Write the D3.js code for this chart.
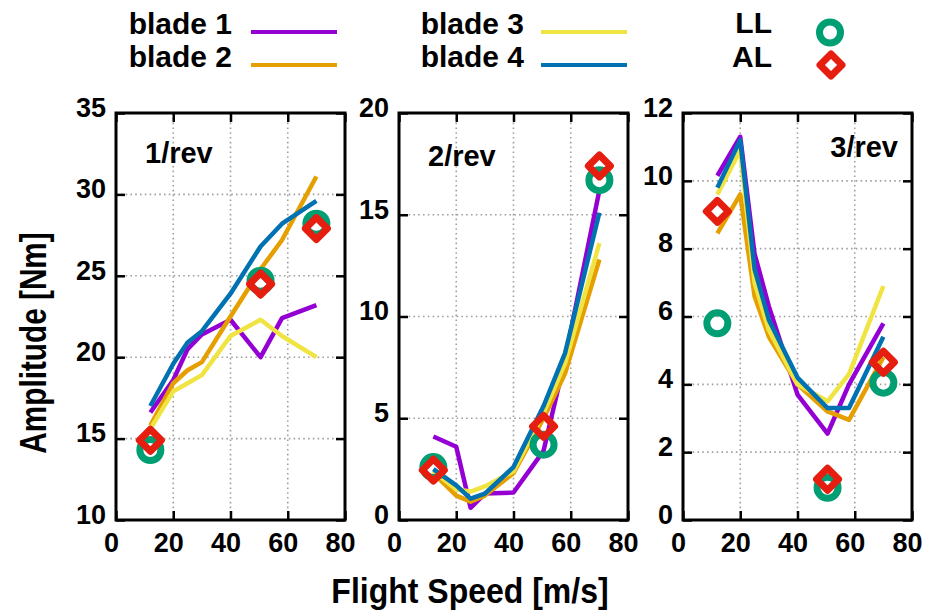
<!DOCTYPE html>
<html>
<head>
<meta charset="utf-8">
<script src="https://cdn.jsdelivr.net/npm/d3@7"></script>
<style>
  html, body { margin: 0; padding: 0; background: #fff; }
  svg { display: block; }
  text { font-family: "Liberation Sans", Arial, Helvetica, sans-serif; font-weight: bold; fill: #000; }
</style>
</head>
<body>
<svg id="chart" width="928" height="610"></svg>
<script>
// Flight speeds at which the blade loads were evaluated [m/s]
const speeds = [12, 20, 25, 30, 40, 50.5, 58, 70];
const markerSpeeds = [12, 50.5, 70];
const xTicks = [0, 20, 40, 60, 80];

// 1/rev amplitudes [Nm]
const rev1Blade1 = [16.6, 18.6, 20.5, 21.4, 22.3, 20.0, 22.4, 23.2];
const rev1Blade2 = [15.8, 18.4, 19.2, 19.7, 22.5, 25.4, 27.2, 31.1];
const rev1Blade3 = [15.6, 17.9, 18.4, 18.9, 21.3, 22.3, 21.3, 20.0];
const rev1Blade4 = [17.0, 19.6, 20.9, 21.6, 23.9, 26.8, 28.2, 29.6];
const rev1LL = [14.3, 24.7, 28.2];
const rev1AL = [14.9, 24.5, 27.9];
const rev1Ticks = [10, 15, 20, 25, 30, 35];

// 2/rev amplitudes [Nm]
const rev2Blade1 = [4.1, 3.6, 0.6, 1.3, 1.35, 3.4, 7.9, 16.2];
const rev2Blade2 = [2.3, 1.2, 0.9, 1.2, 2.3, 5.0, 7.2, 12.8];
const rev2Blade3 = [2.4, 1.5, 1.4, 1.65, 2.4, 5.25, 7.7, 13.6];
const rev2Blade4 = [2.5, 1.7, 1.05, 1.3, 2.6, 5.6, 8.2, 15.1];
const rev2LL = [2.6, 3.7, 16.7];
const rev2AL = [2.45, 4.6, 17.4];
const rev2Ticks = [0, 5, 10, 15, 20];

// 3/rev amplitudes [Nm]
const rev3Blade1 = [10.15, 11.3, 7.85, 6.3, 3.7, 2.55, 4.0, 5.8];
const rev3Blade2 = [8.45, 9.6, 6.6, 5.4, 4.0, 3.2, 2.95, 4.8];
const rev3Blade3 = [9.6, 10.9, 7.0, 5.6, 4.0, 3.5, 4.3, 6.9];
const rev3Blade4 = [9.8, 11.2, 7.4, 5.9, 4.2, 3.3, 3.3, 5.4];
const rev3LL = [5.8, 0.95, 4.05];
const rev3AL = [9.1, 1.2, 4.65];
const rev3Ticks = [0, 2, 4, 6, 8, 10, 12];

const bladeNames = ["blade 1", "blade 2", "blade 3", "blade 4"];
const bladeColors = ["#9400d3", "#e69f00", "#f0e442", "#0072b2"];
const llColor = "#009e73";
const alColor = "#e51e10";

const panels = [
  { label: "1/rev", blades: [rev1Blade1, rev1Blade2, rev1Blade3, rev1Blade4], ll: rev1LL, al: rev1AL, ticks: rev1Ticks, left: 116, labelX: 145, labelY: 163, anchor: "start" },
  { label: "2/rev", blades: [rev2Blade1, rev2Blade2, rev2Blade3, rev2Blade4], ll: rev2LL, al: rev2AL, ticks: rev2Ticks, left: 399, labelX: 428, labelY: 166, anchor: "start" },
  { label: "3/rev", blades: [rev3Blade1, rev3Blade2, rev3Blade3, rev3Blade4], ll: rev3LL, al: rev3AL, ticks: rev3Ticks, left: 683, labelX: 898, labelY: 157, anchor: "end" }
];

const panelW = 229, plotTop = 113, plotBottom = 520;
const tickFont = 27;
const svg = d3.select("#chart");

function diamondPath(cx, cy, d) {
  return `M${cx},${cy - d}L${cx + d},${cy}L${cx},${cy + d}L${cx - d},${cy}Z`;
}

panels.forEach(p => {
  const x = d3.scaleLinear().domain([0, 80]).range([p.left, p.left + panelW]);
  const y = d3.scaleLinear().domain([p.ticks[0], p.ticks[p.ticks.length - 1]]).range([plotBottom, plotTop]);
  const g = svg.append("g");

  // dotted grid at interior ticks
  const grid = g.append("g").attr("stroke", "#a0a0a0").attr("stroke-width", 1.6)
    .attr("stroke-dasharray", "1.6,3.2");
  xTicks.slice(1, -1).forEach(v => {
    grid.append("line").attr("x1", x(v)).attr("x2", x(v)).attr("y1", plotTop).attr("y2", plotBottom);
  });
  p.ticks.slice(1, -1).forEach(v => {
    grid.append("line").attr("x1", p.left).attr("x2", p.left + panelW).attr("y1", y(v)).attr("y2", y(v));
  });

  // inward ticks on all four sides, labels on left and bottom
  const axL = d3.axisLeft(y).tickValues(p.ticks).tickSizeInner(-9).tickSizeOuter(0).tickPadding(10).tickFormat(d3.format("d"));
  const axR = d3.axisRight(y).tickValues(p.ticks).tickSizeInner(-9).tickSizeOuter(0).tickFormat("");
  const axB = d3.axisBottom(x).tickValues(xTicks).tickSizeInner(-9).tickSizeOuter(0).tickPadding(13).tickFormat(d3.format("d"));
  const axT = d3.axisTop(x).tickValues(xTicks).tickSizeInner(-9).tickSizeOuter(0).tickFormat("");

  const styleAxis = sel => {
    sel.select(".domain").remove();
    sel.selectAll(".tick line").attr("stroke", "#000").attr("stroke-width", 2.5);
    sel.selectAll(".tick text").attr("font-size", tickFont)
      .attr("font-family", "Liberation Sans, Arial, sans-serif").attr("font-weight", "bold");
  };
  g.append("g").attr("transform", `translate(${p.left},0)`).call(axL).call(styleAxis)
    .selectAll(".tick text").attr("dy", "0.12em");
  g.append("g").attr("transform", `translate(${p.left + panelW},0)`).call(axR).call(styleAxis);
  g.append("g").attr("transform", `translate(0,${plotBottom})`).call(axB).call(styleAxis)
    .selectAll(".tick text").attr("dx", -5).attr("dy", "0.71em");
  g.append("g").attr("transform", `translate(0,${plotTop})`).call(axT).call(styleAxis);

  // frame
  g.append("rect").attr("x", p.left).attr("y", plotTop).attr("width", panelW).attr("height", plotBottom - plotTop)
    .attr("fill", "none").attr("stroke", "#000").attr("stroke-width", 3);

  // blade curves
  const line = d3.line().x((d, i) => x(speeds[i])).y(d => y(d));
  p.blades.forEach((vals, b) => {
    g.append("path").datum(vals).attr("d", line).attr("fill", "none")
      .attr("stroke", bladeColors[b]).attr("stroke-width", 4.5)
      .attr("stroke-linejoin", "round");
  });

  // lifting-line and actuator-line markers
  p.ll.forEach((v, i) => {
    g.append("circle").attr("cx", x(markerSpeeds[i])).attr("cy", y(v)).attr("r", 10.5)
      .attr("fill", "none").attr("stroke", llColor).attr("stroke-width", 7);
  });
  p.al.forEach((v, i) => {
    g.append("path").attr("d", diamondPath(x(markerSpeeds[i]), y(v), 11))
      .attr("fill", "none").attr("stroke", alColor).attr("stroke-width", 7)
      .attr("stroke-linejoin", "round");
  });

  g.append("text").attr("x", p.labelX).attr("y", p.labelY).attr("text-anchor", p.anchor)
    .attr("font-size", 29).text(p.label);
});

// axis titles
svg.append("text").attr("transform", "translate(470,603) scale(1,1.08)").attr("text-anchor", "middle")
  .attr("font-size", 32).text("Flight Speed [m/s]");
svg.append("text").attr("transform", "translate(46,343) rotate(-90) scale(0.93,1.15)").attr("text-anchor", "middle")
  .attr("font-size", 32).text("Amplitude [Nm]");

// legend
const legend = svg.append("g");
const legendRows = [
  { name: bladeNames[0], color: bladeColors[0], tx: 232, lx: 251, y: 34 },
  { name: bladeNames[1], color: bladeColors[1], tx: 232, lx: 251, y: 67 },
  { name: bladeNames[2], color: bladeColors[2], tx: 524, lx: 541, y: 34 },
  { name: bladeNames[3], color: bladeColors[3], tx: 524, lx: 541, y: 67 }
];
legendRows.forEach(r => {
  legend.append("text").attr("x", r.tx).attr("y", r.y).attr("text-anchor", "end")
    .attr("font-size", 30).text(r.name);
  legend.append("line").attr("x1", r.lx).attr("x2", r.lx + 86).attr("y1", r.y - 2).attr("y2", r.y - 2)
    .attr("stroke", r.color).attr("stroke-width", 4);
});
legend.append("text").attr("x", 772).attr("y", 33).attr("text-anchor", "end").attr("font-size", 30).text("LL");
legend.append("text").attr("x", 772).attr("y", 67).attr("text-anchor", "end").attr("font-size", 30).text("AL");
legend.append("circle").attr("cx", 830).attr("cy", 32.5).attr("r", 10.5)
  .attr("fill", "none").attr("stroke", llColor).attr("stroke-width", 7);
legend.append("path").attr("d", diamondPath(831, 65, 11))
  .attr("fill", "none").attr("stroke", alColor).attr("stroke-width", 7).attr("stroke-linejoin", "round");
</script>
</body>
</html>
